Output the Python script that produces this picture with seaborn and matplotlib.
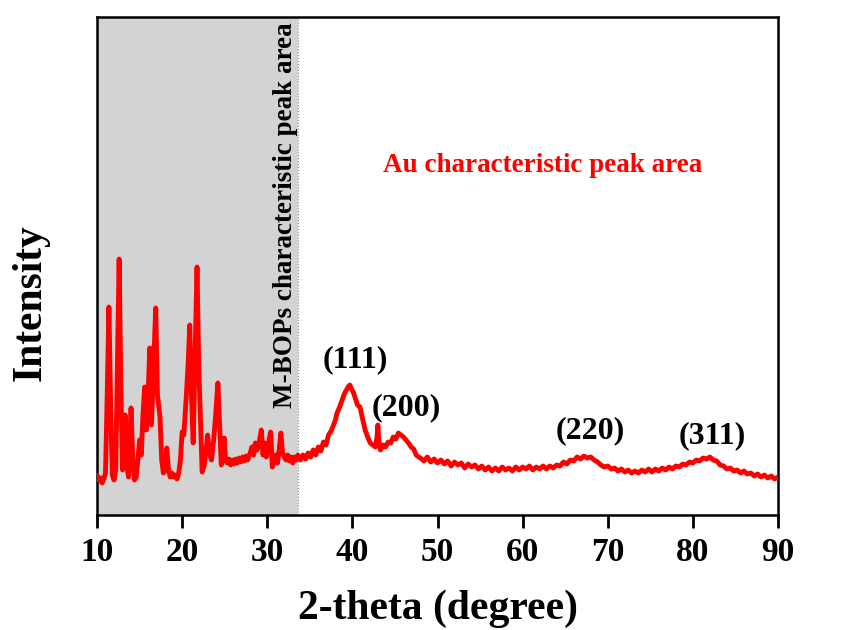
import numpy as np
import pandas as pd
import matplotlib
matplotlib.use('Agg')
import matplotlib.pyplot as plt
import seaborn as sns

# XRD pattern (2-theta in degree, intensity in a.u.)
two_theta = [
    10.0, 10.2, 10.4, 10.6, 10.8, 11.0, 11.2, 11.4, 11.6, 11.8,
    12.0, 12.2, 12.4, 12.6, 12.8, 13.0, 13.1, 13.3, 13.5, 13.7,
    13.8, 14.0, 14.2, 14.4, 14.6, 14.8, 15.0, 15.2, 15.4, 15.6,
    15.8, 16.0, 16.2, 16.4, 16.6, 16.9, 17.1, 17.4, 17.6, 17.8,
    18.0, 18.2, 18.4, 18.6, 18.8, 19.0, 19.2, 19.4, 19.6, 19.8,
    20.0, 20.2, 20.5, 20.7, 20.9, 21.1, 21.3, 21.5, 21.75, 21.95,
    22.15, 22.35, 22.6, 22.8, 23.0, 23.2, 23.45, 23.7, 23.9, 24.2,
    24.4, 24.6, 24.8, 24.95, 25.1, 25.3, 25.5, 25.7, 25.9, 26.1,
    26.3, 26.5, 26.7, 26.9, 27.1, 27.3, 27.5, 27.7, 28.0, 28.2,
    28.4, 28.6, 28.8, 29.0, 29.3, 29.5, 29.7, 29.9, 30.1, 30.4,
    30.6, 30.8, 31.0, 31.2, 31.4, 31.6, 31.8, 32.0, 32.2, 32.4,
    32.6, 32.8, 33.0, 33.2, 33.4, 33.6, 33.9, 34.2, 34.5, 34.8,
    35.1, 35.4, 35.7, 36.0, 36.3, 36.6, 36.9, 37.2, 37.5, 37.7,
    38.0, 38.2, 38.5, 38.8, 39.0, 39.3, 39.5, 39.7, 39.9, 40.1,
    40.3, 40.6, 40.9, 41.2, 41.5, 41.8, 42.1, 42.4, 42.7, 42.9,
    43.0, 43.1, 43.3, 43.6, 43.9, 44.2, 44.5, 44.8, 45.1, 45.4,
    45.7, 46.0, 46.3, 46.6, 46.9, 47.2, 47.5, 47.8,
    48.0, 48.4, 48.8, 49.2, 49.6, 50.0, 50.4, 50.8, 51.2, 51.6,
    52.0, 52.4, 52.8, 53.2, 53.6, 54.0, 54.4, 54.8, 55.2, 55.6,
    56.0, 56.4, 56.8, 57.2, 57.6, 58.0, 58.4, 58.8, 59.2, 59.6,
    60.0, 60.4, 60.8, 61.2, 61.6, 62.0, 62.4, 62.8, 63.2, 63.6,
    64.0, 64.4, 64.8, 65.2, 65.6, 66.0, 66.4, 66.8, 67.2, 67.6,
    68.0, 68.4, 68.8, 69.2, 69.6, 70.0, 70.4, 70.8, 71.2, 71.6,
    72.0, 72.4, 72.8, 73.2, 73.6, 74.0, 74.4, 74.8, 75.2, 75.6,
    76.0, 76.4, 76.8, 77.2, 77.6, 78.0, 78.4, 78.8, 79.2, 79.6,
    80.0, 80.4, 80.8, 81.2, 81.6, 82.0, 82.4, 82.8, 83.2, 83.6,
    84.0, 84.4, 84.8, 85.2, 85.6, 86.0, 86.4, 86.8, 87.2, 87.6,
    88.0, 88.4, 88.8, 89.2, 89.6, 90.0,
]
intensity = [
    40, 35, 37, 32, 36, 42, 120, 208, 110, 40,
    35, 45, 150, 256, 130, 45, 60, 100, 50, 38,
    60, 107, 55, 35, 38, 55, 75, 60, 100, 128,
    85, 120, 167, 90, 140, 207, 120, 98, 55, 42,
    45, 67, 45, 38, 42, 38, 40, 36, 42, 55,
    83, 80, 120, 150, 190, 120, 72, 150, 248, 150,
    98, 43, 50, 65, 80, 62, 55, 75, 95, 132,
    90, 50, 60, 77, 55, 52, 56, 50, 55, 51,
    56, 52, 57, 53, 58, 54, 59, 55, 62, 68,
    60, 72, 65, 70, 85, 60, 72, 58, 70, 83,
    48, 55, 60, 52, 65, 82, 62, 58, 55, 60,
    54, 58, 52, 58, 55, 60, 55, 60, 56, 62,
    58, 65, 60, 68, 64, 73, 70, 80, 84, 88,
    95, 102, 108, 115, 120, 125, 128, 130, 126, 123,
    118, 110, 108, 96, 85, 78, 72, 70, 68, 78,
    90, 75, 65, 70, 68, 73, 72, 78, 76, 82,
    80, 78, 75, 72, 68, 66, 60, 58,
    57, 54, 58, 53, 56, 52, 55, 51, 54, 49,
    53, 50, 52, 47, 51, 48, 50, 46, 49, 45,
    48, 44, 47, 44, 48, 45, 47, 44, 48, 45,
    48, 46, 49, 45, 48, 46, 49, 46, 49, 47,
    50, 49, 53, 51, 55, 54, 58, 56, 59, 57,
    58, 55, 53, 50, 48, 49, 46, 47, 44, 46,
    43, 45, 42, 44, 42, 45, 43, 46, 43, 46,
    44, 47, 45, 48, 46, 49, 48, 51, 50, 53,
    52, 55, 54, 57, 56, 58, 55, 54, 50, 49,
    46, 47, 44, 45, 42, 44, 41, 42, 39, 41,
    38, 40, 37, 39, 36, 38,
]

xticks = [10, 20, 30, 40, 50, 60, 70, 80, 90]
shade_end = 33.6

hkl_labels = ['(111)', '(200)', '(220)', '(311)']
hkl_x = [40.3, 46.3, 68.0, 82.25]
hkl_y = [155, 107, 84, 79]

df = pd.DataFrame({'2theta': two_theta, 'Intensity': intensity})

sns.set_style('ticks')
plt.rcParams['font.family'] = ['Liberation Serif', 'DejaVu Serif']
plt.rcParams['font.weight'] = 'bold'

fig = plt.figure(figsize=(8.5, 6.3), dpi=100)
ax = fig.add_axes([97 / 850, 1 - 515 / 630, 681 / 850, 498 / 630])

# grey region for the M-BOPs peaks
ax.axvspan(10, shade_end, color='#d3d3d3', zorder=0, lw=0)
ax.axvline(shade_end, color='#888888', lw=0.8, ls=':', zorder=1)

sns.lineplot(data=df, x='2theta', y='Intensity', color='red', lw=3.5,
             ax=ax, zorder=3)

ax.set_xlim(10, 90)
ax.set_ylim(0, 498)
ax.set_xticks(xticks)
ax.set_yticks([])
ax.tick_params(axis='x', direction='out', length=9, width=2, pad=7,
               labelsize=24, colors='black')
for lab in ax.get_xticklabels():
    lab.set_fontweight('bold')
for sp in ax.spines.values():
    sp.set_linewidth(1.8)
    sp.set_color('black')

ax.set_xlabel('2-theta (degree)', fontsize=30, fontweight='bold',
              labelpad=15, color='black')
ax.set_ylabel('Intensity', fontsize=30, fontweight='bold', color='black')
ax.yaxis.set_label_coords(-0.07, 0.426)

ax.text(32.2, 107, 'M-BOPs characteristic peak area', rotation=90,
        ha='center', va='bottom', fontsize=19.5, fontweight='bold',
        color='black')
ax.text(62.4, 350, 'Au characteristic peak area', ha='center', va='center',
        fontsize=19.5, fontweight='bold', color='red')

for lab, x, y in zip(hkl_labels, hkl_x, hkl_y):
    ax.text(x, y, lab, ha='center', va='center', fontsize=23,
            fontweight='bold', color='black')

fig.savefig('out.png', dpi=100)
